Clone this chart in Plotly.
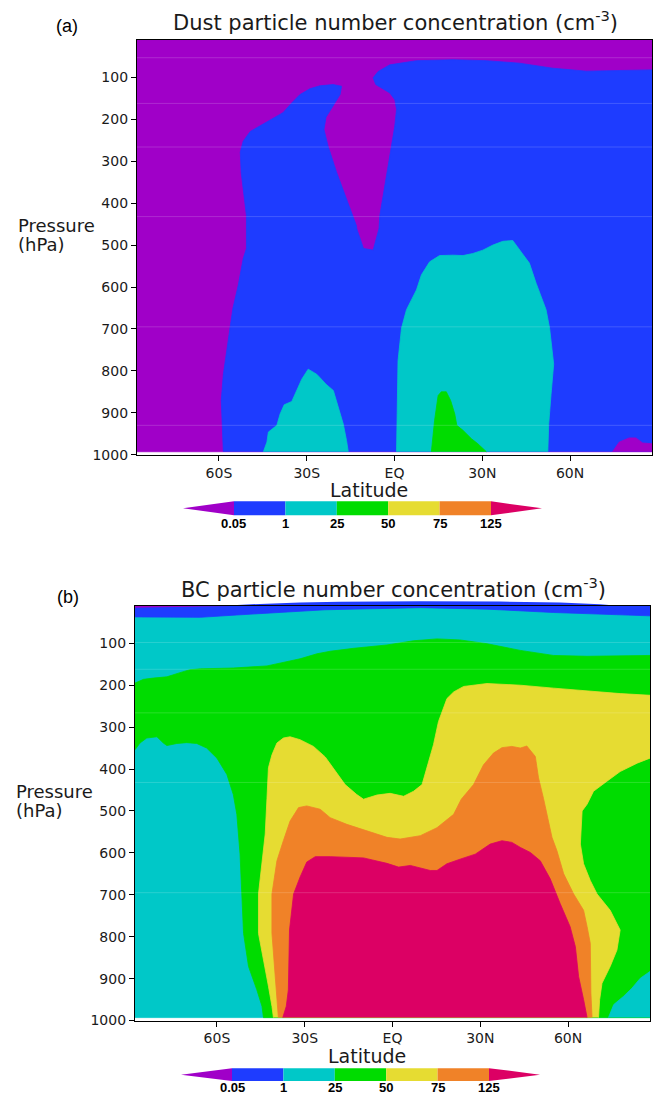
import plotly.graph_objects as go

W, H = 655, 1101
LAT_W, LAT_E = -88, 88
P_TOP, P_BOT = 10, 993

PURPLE = "rgb(160,0,200)"
BLUE = "rgb(30,60,255)"
CYAN = "rgb(0,200,200)"
GREEN = "rgb(0,220,0)"
YELLOW = "rgb(230,220,50)"
ORANGE = "rgb(240,130,40)"
MAGENTA = "rgb(220,0,100)"
level_colors = [PURPLE, BLUE, CYAN, GREEN, YELLOW, ORANGE, MAGENTA]
level_labels = ["0.05", "1", "25", "50", "75", "125"]

pressure_ticks = [100, 200, 300, 400, 500, 600, 700, 800, 900, 1000]
lat_ticks = [-60, -30, 0, 30, 60]
lat_tick_text = ["60S", "30S", "EQ", "30N", "60N"]

# ---------------- (a) Dust : contour region boundaries (lat, hPa) -------------
dust_bg_lat = [LAT_W, LAT_E, LAT_E, LAT_W]
dust_bg_p = [P_TOP, P_TOP, P_BOT, P_BOT]

dust_blue_lat = [-58.5, -58.9, -59.2, -58.5, -57.2, -56.2, -55.2, -53.4, -51.7, -50.6,
                 -50.6, -51.7, -52.4, -52.7, -51.7, -49.3, -43.5, -38.1, -35.0, -32.3,
                 -28.9, -25.5, -21.0, -18.1, -18.6, -21.5, -23.4, -24.1, -22.7, -19.8,
                 -16.4, -13.0, -12.9, -10.6, -7.3, -5.3, -5.0, -3.3, -2.2, -1.0,
                 0.1, 0.7, 0.1, -1.6, -4.4, -6.4, -7.3, -5.6, -1.6, 7.5,
                 20.0, 31.4, 42.7, 54.1, 65.5, 76.8, 88, 88]
dust_blue_p = [993, 934, 870, 809, 752, 697, 650, 596, 532, 508,
               430, 373, 326, 278, 252, 229, 205, 184, 160, 141,
               127, 120, 117, 121, 141, 172, 195, 224, 264, 326,
               390, 454, 461, 508, 512, 461, 429, 358, 311, 255,
               216, 176, 153, 137, 125, 117, 101, 86, 70, 60,
               58, 60, 66, 78, 85, 84, 82, 993]

dust_purple_spot_lat = [74.5, 76.8, 80.2, 82.5, 84.8, 87.6, 88, 88]
dust_purple_spot_p = [993, 970, 960, 960, 972, 974, 974, 993]

dust_cyan1_lat = [-44.8, -43.6, -43.1, -40.2, -39.1, -37.7, -35.1, -33.4, -31.7, -29.5,
                  -26.6, -25.5, -23.4, -20.9, -19.2, -17.5, -16.4, -15.8]
dust_cyan1_p = [993, 970, 946, 930, 903, 881, 873, 847, 820, 796,
                808, 816, 832, 847, 887, 927, 966, 993]

dust_cyan2_lat = [0.7, 1.0, 1.2, 2.4, 4.1, 7.5, 9.2, 12.0, 15.4, 20.0, 23.4, 26.8, 30.2,
                  33.6, 37.0, 40.4, 42.7, 46.1, 48.4, 51.8, 53.0, 54.4, 53.5, 52.7, 52.4]
dust_cyan2_p = [993, 871, 776, 698, 654, 607, 571, 540, 525, 524, 525, 520, 512,
                500, 491, 489, 512, 543, 591, 654, 698, 784, 856, 927, 993]

dust_green_lat = [12.6, 13.7, 14.9, 16.0, 17.7, 19.2, 20.6, 21.3, 23.4, 26.3, 28.5, 31.4]
dust_green_p = [993, 918, 859, 850, 850, 871, 903, 930, 942, 962, 974, 993]

dust_seams_p = [53, 162, 266, 432, 695, 930]

# ---------------- (b) BC : contour region boundaries (lat, hPa) ---------------
bc_bg_lat = [LAT_W, LAT_E, LAT_E, LAT_W]
bc_bg_p = [P_TOP, P_TOP, P_BOT, P_BOT]

bc_blue_lat = [-88, -77.1, -65.7, -54.5, -42.9, -23.0, 9.5, 32.3, 55.0, 88, 88, -88]
bc_blue_p = [37, 37, 38, 33, 28, 20, 15, 18.5, 26.5, 34.5, 10, 10]

bc_purple_lat = [-88, -56, -88]
bc_purple_p = [10, 10, 14]

bc_green_lat = [-88, -85.1, -81.7, -77.1, -72.6, -69.2, -65.7, -54.4, -42.9, -37.3,
                -31.6, -25.8, -21.3, -13.3, -1.9, 7.2, 15.2, 23.1, 32.3, 43.7,
                55.0, 66.5, 88, 88, -44.1, -44.6, -46.4, -49.2, -50.9, -51.5,
                -52.1, -53.2, -54.4, -56.6, -60.0, -63.5, -66.9, -70.3, -73.7, -77.1,
                -78.3, -80.5, -84.0, -86.3, -88]
bc_green_p = [195, 186, 183, 180, 170, 163, 161, 159, 154, 146,
              137, 125, 119, 112, 104, 94, 89.5, 92, 101, 117,
              129, 131, 129, 993, 993, 966, 926, 871, 792, 698,
              603, 508, 461, 413, 374, 350, 339, 337, 339, 344,
              338, 323, 326, 338, 354]

bc_yellow_lat = [-40.7, -41.2, -42.4, -44.1, -45.8, -45.8, -43.5, -42.9, -42.4, -41.2,
                 -39.5, -37.3, -35.0, -31.6, -27.0, -23.0, -20.2, -16.2, -12.2, -9.9,
                 -5.3, -0.8, 3.8, 7.2, 10.1, 11.8, 14.0, 15.7, 18.6, 20.9,
                 24.3, 32.3, 43.7, 55.0, 66.5, 77.8, 88, 88, 83.6, 77.8,
                 73.3, 68.7, 66.5, 64.8, 64.2, 65.3, 67.6, 69.9, 74.4, 77.8,
                 76.7, 74.4, 71.6, 70.8, 70.4]
bc_yellow_p = [993, 966, 918, 855, 792, 698, 555, 470, 397, 366,
               338, 326, 323, 330, 346, 371, 397, 437, 461, 472,
               462, 458, 465, 453, 437, 397, 342, 287, 232, 216,
               203, 196, 200, 207, 214, 220, 224, 374, 386, 406,
               429, 453, 484, 500, 579, 626, 666, 698, 737, 784,
               832, 871, 911, 950, 993]

bc_orange_lat = [-39.0, -39.3, -39.8, -40.4, -41.2, -41.2, -40.7, -39.5, -37.3, -35.0,
                 -32.1, -29.3, -24.7, -21.3, -15.6, -7.6, -1.9, 2.6, 9.5, 15.2,
                 20.9, 23.5, 27.7, 31.1, 34.5, 37.4, 40.8, 43.7, 45.9, 48.8,
                 49.9, 51.6, 52.8, 54.5, 56.2, 58.5, 61.9, 65.3, 66.5, 67.6,
                 67.8, 68.2]
bc_orange_p = [993, 966, 918, 855, 792, 698, 674, 619, 571, 524,
               492, 488, 496, 516, 532, 551, 563, 567, 559, 540,
               508, 472, 437, 390, 362, 349, 346, 350, 345, 370,
               421, 470, 508, 563, 595, 650, 698, 737, 776, 816,
               934, 993]

bc_magenta_lat = [-37.5, -36.3, -35.6, -35.2, -33.8, -31.6, -29.3, -26.4, -21.3, -9.9,
                  -1.9, 2.1, 6.1, 9.5, 12.9, 15.2, 18.6, 23.1, 28.3, 30.0,
                  33.4, 37.4, 40.8, 43.7, 47.1, 50.5, 53.9, 57.3, 60.7, 62.5,
                  63.6, 65.3, 66.5]
bc_magenta_p = [993, 966, 927, 784, 698, 658, 622, 609, 609, 612,
                625, 634, 630, 636, 642, 642, 626, 615, 603, 595,
                579, 571, 575, 587, 599, 619, 662, 721, 776, 824,
                895, 950, 993]

bc_cyan_spot_lat = [73.8, 75.6, 79.0, 81.8, 84.7, 88, 88]
bc_cyan_spot_p = [993, 962, 942, 923, 899, 883, 993]

bc_seams_p = [98, 162, 266, 432, 695]

# ------------------------------------------------------------------------------
fig = go.Figure()


def add_region(lat, p, color, n):
    fig.add_trace(go.Scatter(
        x=lat, y=p, mode="lines", fill="toself", fillcolor=color,
        line=dict(color=color, width=0.8), hoverinfo="skip", showlegend=False,
        xaxis="x" if n == 1 else "x2", yaxis="y" if n == 1 else "y2"))


def add_seams(levels, n):
    for lv in levels:
        fig.add_trace(go.Scatter(
            x=[LAT_W, LAT_E], y=[lv, lv], mode="lines",
            line=dict(color="rgba(255,255,255,0.16)", width=1),
            hoverinfo="skip", showlegend=False,
            xaxis="x" if n == 1 else "x2", yaxis="y" if n == 1 else "y2"))


add_region(dust_bg_lat, dust_bg_p, PURPLE, 1)
add_region(dust_blue_lat, dust_blue_p, BLUE, 1)
add_region(dust_purple_spot_lat, dust_purple_spot_p, PURPLE, 1)
add_region(dust_cyan1_lat, dust_cyan1_p, CYAN, 1)
add_region(dust_cyan2_lat, dust_cyan2_p, CYAN, 1)
add_region(dust_green_lat, dust_green_p, GREEN, 1)
add_seams(dust_seams_p, 1)

add_region(bc_bg_lat, bc_bg_p, CYAN, 2)
add_region(bc_blue_lat, bc_blue_p, BLUE, 2)
add_region(bc_purple_lat, bc_purple_p, PURPLE, 2)
add_region(bc_green_lat, bc_green_p, GREEN, 2)
add_region(bc_yellow_lat, bc_yellow_p, YELLOW, 2)
add_region(bc_cyan_spot_lat, bc_cyan_spot_p, CYAN, 2)
add_region(bc_orange_lat, bc_orange_p, ORANGE, 2)
add_region(bc_magenta_lat, bc_magenta_p, MAGENTA, 2)
add_seams(bc_seams_p, 2)


def px(x):
    return x / W


def py(y):
    return 1 - y / H


TXT = "#1a1a1a"
FONT = "DejaVu Sans"

axis_common = dict(showgrid=False, zeroline=False, showline=True, mirror=True,
                   linecolor="black", linewidth=1.3, ticks="outside", ticklen=5,
                   tickwidth=1, tickcolor="black",
                   tickfont=dict(family=FONT, size=14, color=TXT))

xa = dict(axis_common, range=[LAT_W, LAT_E], tickvals=lat_ticks, ticktext=lat_tick_text)
ya = dict(axis_common, range=[1000, 10], tickvals=pressure_ticks,
          ticktext=[str(v) for v in pressure_ticks])

fig.update_layout(
    width=W, height=H, margin=dict(l=0, r=0, t=0, b=0),
    paper_bgcolor="white", plot_bgcolor="white", showlegend=False,
    xaxis=dict(xa, domain=[px(137), px(652)], anchor="y"),
    yaxis=dict(ya, domain=[py(458), py(40)], anchor="x"),
    xaxis2=dict(xa, domain=[px(135), px(650)], anchor="y2"),
    yaxis2=dict(ya, domain=[py(1028), py(610)], anchor="x2"),
)

ann = []


def text(x, y, s, size, xanchor="center", family=FONT, color=TXT):
    ann.append(dict(x=px(x), y=py(y), xref="paper", yref="paper", text=s,
                    showarrow=False, xanchor=xanchor, yanchor="middle",
                    font=dict(family=family, size=size, color=color)))


text(395, 21, "Dust particle number concentration (cm<sup>-3</sup>)", 21)
text(393, 592, "BC particle number concentration (cm<sup>-3</sup>)", 21)
text(67, 26, "(a)", 18, family="Liberation Sans", color="black")
text(68, 601, "(b)", 18, family="Liberation Sans", color="black")
text(16, 227, "Pressure", 18, xanchor="left")
text(16, 246, "(hPa)", 18, xanchor="left")
text(14, 797, "Pressure", 18, xanchor="left")
text(14, 816, "(hPa)", 18, xanchor="left")
text(369, 494, "Latitude", 19)
text(367, 1064, "Latitude", 19)

shapes = []


def colorbar(x_tip, x0, step, y0, y1, label_y):
    ym = (y0 + y1) / 2
    shapes.append(dict(type="path", xref="paper", yref="paper",
                       path=f"M {px(x_tip)},{py(ym)} L {px(x0)},{py(y0)} L {px(x0)},{py(y1)} Z",
                       fillcolor=level_colors[0], line=dict(width=0)))
    for i in range(5):
        shapes.append(dict(type="rect", xref="paper", yref="paper",
                           x0=px(x0 + i * step), x1=px(x0 + (i + 1) * step),
                           y0=py(y1), y1=py(y0), fillcolor=level_colors[i + 1],
                           line=dict(width=0)))
    xe = x0 + 5 * step
    shapes.append(dict(type="path", xref="paper", yref="paper",
                       path=f"M {px(xe)},{py(y0)} L {px(xe + (x0 - x_tip))},{py(ym)} L {px(xe)},{py(y1)} Z",
                       fillcolor=level_colors[6], line=dict(width=0)))
    for i, lab in enumerate(level_labels):
        ann.append(dict(x=px(x0 + i * step), y=py(label_y), xref="paper", yref="paper",
                        text=f"<b>{lab}</b>", showarrow=False, xanchor="center",
                        yanchor="middle",
                        font=dict(family="Liberation Sans", size=13, color="black")))


colorbar(183, 234, 51.4, 505, 519, 527)
colorbar(181, 232, 51.4, 1076, 1089, 1095)

# blue contour spilling slightly above the top frame of panel (b)
bulge = [(228, 610), (260, 608.3), (300, 606.9), (340, 606.1), (420, 605.6),
         (500, 606.0), (560, 607.0), (600, 608.6), (615, 610)]
path = "M " + " L ".join(f"{px(a)},{py(b)}" for a, b in bulge) + " Z"
shapes.append(dict(type="path", xref="paper", yref="paper", path=path,
                   fillcolor=BLUE, line=dict(width=0), layer="below"))

fig.update_layout(annotations=ann, shapes=shapes)
fig.write_html("out.html", config={"displayModeBar": False},
               post_script="document.body.style.margin='0px';document.body.style.overflow='hidden';")
